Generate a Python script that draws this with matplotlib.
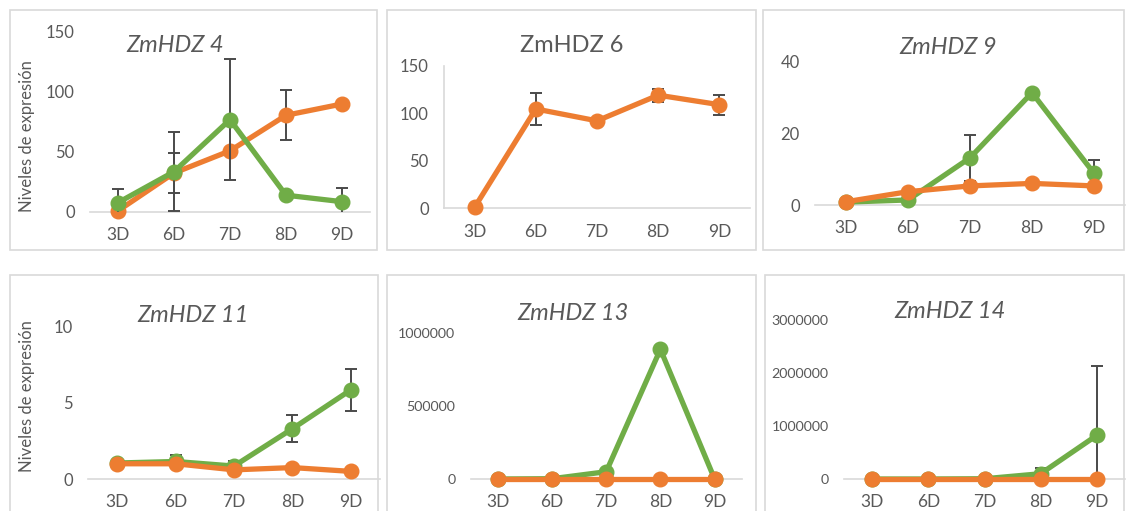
import matplotlib
matplotlib.use("Agg")
import matplotlib.pyplot as plt
from matplotlib.patches import Rectangle
import numpy as np

plt.rcParams['font.family'] = ['Lato', 'DejaVu Sans']

W, H = 1126, 511
days = ["3D", "6D", "7D", "8D", "9D"]

# ZmHDZ 4
hdz4_green = [7.8, 33.6, 77, 14, 8.6]
hdz4_green_err = [11, 32.8, 50.5, 0, 11]
hdz4_orange = [1, 32.5, 51, 80.6, 90]
hdz4_orange_err = [0, 16.5, 0, 21, 0]
# ZmHDZ 6
hdz6_orange = [1, 104.5, 92, 119, 109]
hdz6_orange_err = [0, 17, 0, 7, 10.5]
# ZmHDZ 9
hdz9_green = [0.8, 1.4, 13.1, 31.2, 8.8]
hdz9_green_err = [0, 0, 6.3, 0, 3.7]
hdz9_orange = [0.9, 3.7, 5.3, 6.0, 5.3]
hdz9_orange_err = [0, 0, 0, 0, 0]
# ZmHDZ 11
hdz11_green = [1.05, 1.15, 0.85, 3.3, 5.85]
hdz11_green_err = [0, 0.45, 0.35, 0.88, 1.4]
hdz11_orange = [1.0, 1.0, 0.6, 0.75, 0.5]
hdz11_orange_err = [0, 0, 0, 0, 0]
# ZmHDZ 13
hdz13_green = [0, 2000, 50000, 890000, 0]
hdz13_green_err = [0, 0, 0, 0, 0]
hdz13_orange = [0, 0, 0, 0, 0]
hdz13_orange_err = [0, 0, 0, 0, 0]
# ZmHDZ 14
hdz14_green = [0, 0, 5000, 100000, 825000]
hdz14_green_err = [0, 0, 0, 100000, 1300000]
hdz14_orange = [0, 0, 0, 0, 0]
hdz14_orange_err = [0, 0, 0, 0, 0]

GREEN = "#70AD47"
ORANGE = "#ED7D31"
ERR = "#4a4a4a"
GRID = "#D9D9D9"
TXT = "#595959"

fig = plt.figure(figsize=(W / 100, H / 100), dpi=100)


def px_axes(x0, x1, y0, ytop):
    return fig.add_axes([x0 / W, 1 - y0 / H, (x1 - x0) / W, (y0 - ytop) / H])


def border(x0, y0, x1, y1):
    fig.patches.append(Rectangle((x0 / W, 1 - y1 / H), (x1 - x0) / W, (y1 - y0) / H,
                                 transform=fig.transFigure, fill=False,
                                 edgecolor=GRID, linewidth=1.2))


border(10, 10, 377, 250)
border(387, 10, 756, 250)
border(763, 10, 1124, 250)
border(10, 275, 378, 530)
border(387, 275, 756, 530)
border(765, 275, 1124, 530)


def panel(rect, ymax, yticks, title, series, italic=True, left_spine=False,
          tick_fs=12, title_pos=None, ytick_labels=None):
    ax = px_axes(*rect)
    ax.set_xlim(-0.5, 4.5)
    ax.set_ylim(0, ymax)
    x = np.arange(len(days))
    for k, (vals, errs, col, z) in enumerate(series):
        e = np.array(errs, dtype=float)
        ax.errorbar(x, vals, yerr=e, fmt='none', ecolor=ERR, elinewidth=1.4,
                    capsize=4.5, capthick=1.4, zorder=z - 0.5, clip_on=True)
        ax.plot(x, vals, color=col, lw=3.8, marker='o', ms=10.5,
                zorder=z, clip_on=False, solid_joinstyle='round')
    for s in ['top', 'right', 'left']:
        ax.spines[s].set_visible(False)
    ax.spines['bottom'].set_color(GRID)
    ax.spines['bottom'].set_linewidth(1.2)
    ax.spines['bottom'].set_zorder(0)
    if left_spine:
        ax.spines['left'].set_visible(True)
        ax.spines['left'].set_color(GRID)
        ax.spines['left'].set_linewidth(1.2)
    ax.set_xticks(x)
    ax.set_xticklabels(days)
    ax.set_yticks(yticks)
    if ytick_labels is not None:
        ax.set_yticklabels(ytick_labels)
    ax.tick_params(axis='both', length=0, colors=TXT)
    ax.tick_params(axis='x', pad=11, labelsize=12.5)
    ax.tick_params(axis='y', pad=11, labelsize=tick_fs)
    ax.patch.set_alpha(0)
    tx, ty = title_pos
    fig.text(tx / W, 1 - ty / H, title, ha='center', va='center', fontsize=17,
             color=TXT, style='italic' if italic else 'normal')
    return ax


panel((90, 370, 212, 32), 150, [0, 50, 100, 150], "ZmHDZ 4",
      [(hdz4_orange, hdz4_orange_err, ORANGE, 3), (hdz4_green, hdz4_green_err, GREEN, 4)],
      title_pos=(175, 46))
panel((444, 750, 208.3, 65.7), 150, [0, 50, 100, 150], "ZmHDZ 6",
      [(hdz6_orange, hdz6_orange_err, ORANGE, 3)], italic=False, left_spine=True,
      title_pos=(572, 45))
panel((815, 1125, 205, 61), 40, [0, 20, 40], "ZmHDZ 9",
      [(hdz9_green, hdz9_green_err, GREEN, 3), (hdz9_orange, hdz9_orange_err, ORANGE, 4)],
      title_pos=(948, 48))
panel((88, 380, 479, 326.7), 10, [0, 5, 10], "ZmHDZ 11",
      [(hdz11_green, hdz11_green_err, GREEN, 3), (hdz11_orange, hdz11_orange_err, ORANGE, 4)],
      title_pos=(193, 315))
panel((470.7, 741.7, 479, 333.3), 1000000, [0, 500000, 1000000], "ZmHDZ 13",
      [(hdz13_green, hdz13_green_err, GREEN, 3), (hdz13_orange, hdz13_orange_err, ORANGE, 4)],
      tick_fs=10.3, title_pos=(573, 313), ytick_labels=["0", "500000", "1000000"])
panel((844, 1125, 479, 320), 3000000, [0, 1000000, 2000000, 3000000], "ZmHDZ 14",
      [(hdz14_green, hdz14_green_err, GREEN, 3), (hdz14_orange, hdz14_orange_err, ORANGE, 4)],
      tick_fs=10.3, title_pos=(950, 312),
      ytick_labels=["0", "1000000", "2000000", "3000000"])

fig.text(27 / W, 1 - 136 / H, "Niveles de expresión", rotation=90, ha='center',
         va='center', fontsize=12, color=TXT)
fig.text(27 / W, 1 - 396 / H, "Niveles de expresión", rotation=90, ha='center',
         va='center', fontsize=12, color=TXT)

fig.savefig("out.png", dpi=100, facecolor='white')
